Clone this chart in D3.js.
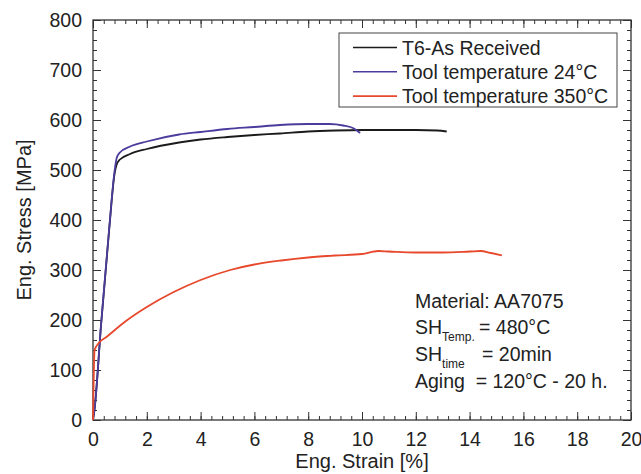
<!DOCTYPE html>
<html lang="en">
<head>
    <meta charset="UTF-8">
    <title>Stress strain AA7075</title>
    <script src="https://d3js.org/d3.v7.min.js"></script>
    <style>
        body { margin: 0; background: #fff; }
        svg { font-family: "Liberation Sans", Arial, sans-serif; }
    </style>
</head>
<body>
<div id="chart"></div>
<script>
    // series: [strain %, stress MPa]
    const t6AsReceived = [
        [0, 0], [0.05, 18], [0.3, 190], [0.6, 380], [0.8, 492], [0.88, 511], [1.0, 521],
        [1.38, 532], [2, 542], [3.2, 555], [4, 561], [5, 566], [6, 570], [6.95, 573],
        [8, 577], [9, 579], [10, 580], [11, 580], [12, 580], [12.8, 579], [13.15, 577]
    ];
    const tool24 = [
        [0, 0], [0.05, 18], [0.3, 192], [0.6, 382], [0.8, 497], [0.88, 524], [1.0, 535],
        [1.38, 547], [2, 557], [3.2, 571], [4, 576], [5, 582], [6, 586], [6.95, 590],
        [8, 592], [8.8, 592], [9.3, 589], [9.7, 583], [9.93, 574]
    ];
    const tool350 = [
        [0, 0], [0.06, 140], [0.2, 153], [0.5, 166], [1.2, 197], [2, 226], [3, 256],
        [4, 280], [5.1, 300], [6, 311], [7, 319], [8, 325], [9, 329], [10, 332],
        [10.6, 338], [11, 337], [12, 335], [13, 335], [14, 337], [14.4, 338],
        [14.8, 334], [15.2, 329]
    ];
    const seriesNames = ["T6-As Received", "Tool temperature 24°C", "Tool temperature 350°C"];
    const seriesColors = ["#1b1b1b", "#4a3c9c", "#e8482c"];
    const xTicks = [0, 2, 4, 6, 8, 10, 12, 14, 16, 18, 20];
    const yTicks = [0, 100, 200, 300, 400, 500, 600, 700, 800];

    const width = 641, height = 474;
    const margin = { top: 20, right: 10, bottom: 54, left: 93 };
    const fontFam = "Liberation Sans, Arial, sans-serif";

    const svg = d3.select("#chart").append("svg")
        .attr("width", width)
        .attr("height", height);

    const x = d3.scaleLinear().domain([0, 20]).range([margin.left, width - margin.right]);
    const y = d3.scaleLinear().domain([0, 800]).range([height - margin.bottom, margin.top]);

    const minorX = d3.range(0, 20.001, 0.4);
    const minorY = d3.range(0, 800.001, 20);

    // inward ticks on all four sides
    function addAxis(axis, tf) {
        const g = svg.append("g").attr("transform", tf).call(axis);
        g.selectAll("path").remove();
        g.selectAll("line").attr("stroke", "#333").attr("stroke-width", 1);
        return g;
    }
    const H = height - margin.bottom, W = width - margin.right;
    addAxis(d3.axisBottom(x).tickValues(minorX).tickSize(-4).tickFormat(""), `translate(0,${H})`);
    addAxis(d3.axisTop(x).tickValues(minorX).tickSize(-4).tickFormat(""), `translate(0,${margin.top})`);
    addAxis(d3.axisLeft(y).tickValues(minorY).tickSize(-4).tickFormat(""), `translate(${margin.left},0)`);
    addAxis(d3.axisRight(y).tickValues(minorY).tickSize(-4).tickFormat(""), `translate(${W},0)`);

    const xb = addAxis(d3.axisBottom(x).tickValues(xTicks).tickSize(-8).tickPadding(12).tickFormat(d3.format("d")), `translate(0,${H})`);
    addAxis(d3.axisTop(x).tickValues(xTicks).tickSize(-8).tickFormat(""), `translate(0,${margin.top})`);
    const yl = addAxis(d3.axisLeft(y).tickValues(yTicks).tickSize(-8).tickPadding(11).tickFormat(d3.format("d")), `translate(${margin.left},0)`);
    addAxis(d3.axisRight(y).tickValues(yTicks).tickSize(-8).tickFormat(""), `translate(${W},0)`);

    xb.selectAll("text").attr("font-size", 19.5).attr("fill", "#222").attr("font-family", fontFam);
    yl.selectAll("text").attr("font-size", 19.5).attr("fill", "#222").attr("font-family", fontFam);

    svg.append("rect")
        .attr("x", margin.left).attr("y", margin.top)
        .attr("width", W - margin.left).attr("height", H - margin.top)
        .attr("fill", "none").attr("stroke", "#333").attr("stroke-width", 1.3);

    // curves
    const line = d3.line()
        .x(d => x(d[0]))
        .y(d => y(d[1]))
        .curve(d3.curveMonotoneX);

    [t6AsReceived, tool24, tool350].forEach((s, i) => {
        svg.append("path")
            .datum(s)
            .attr("d", line)
            .attr("fill", "none")
            .attr("stroke", seriesColors[i])
            .attr("stroke-width", 1.8);
    });

    // legend
    const leg = svg.append("g");
    leg.append("rect")
        .attr("x", 339).attr("y", 33).attr("width", 278).attr("height", 74)
        .attr("fill", "#fff").attr("stroke", "#444").attr("stroke-width", 1);
    seriesNames.forEach((name, i) => {
        const yy = 47.5 + i * 24.3;
        leg.append("line")
            .attr("x1", 353).attr("x2", 397).attr("y1", yy).attr("y2", yy)
            .attr("stroke", seriesColors[i]).attr("stroke-width", 1.6);
        leg.append("text")
            .attr("x", 402).attr("y", yy + 7.3)
            .attr("font-size", 19.5).attr("fill", "#222")
            .text(name);
    });

    // annotation
    const note = svg.append("g").attr("font-size", 19.5).attr("fill", "#222");
    note.append("text").attr("x", 415).attr("y", 308).text("Material: AA7075");
    const t2 = note.append("text").attr("x", 415).attr("y", 334);
    t2.append("tspan").text("SH");
    t2.append("tspan").attr("font-size", 12).attr("dy", 7).text("Temp.");
    t2.append("tspan").attr("dy", -7).attr("x", 479).text("= 480°C");
    const t3 = note.append("text").attr("x", 415).attr("y", 361);
    t3.append("tspan").text("SH");
    t3.append("tspan").attr("font-size", 12).attr("dy", 7).text("time");
    t3.append("tspan").attr("dy", -7).attr("x", 482).text("= 20min");
    note.append("text").attr("x", 415).attr("y", 388).attr("xml:space", "preserve").text("Aging  = 120°C - 20 h.");

    // axis titles
    svg.append("text")
        .attr("x", x(10)).attr("y", 468)
        .attr("text-anchor", "middle").attr("font-size", 20).attr("fill", "#222")
        .text("Eng. Strain [%]");
    svg.append("text")
        .attr("transform", `translate(31,${y(400)}) rotate(-90)`)
        .attr("text-anchor", "middle").attr("font-size", 20).attr("fill", "#222")
        .text("Eng. Stress [MPa]");
</script>
</body>
</html>
